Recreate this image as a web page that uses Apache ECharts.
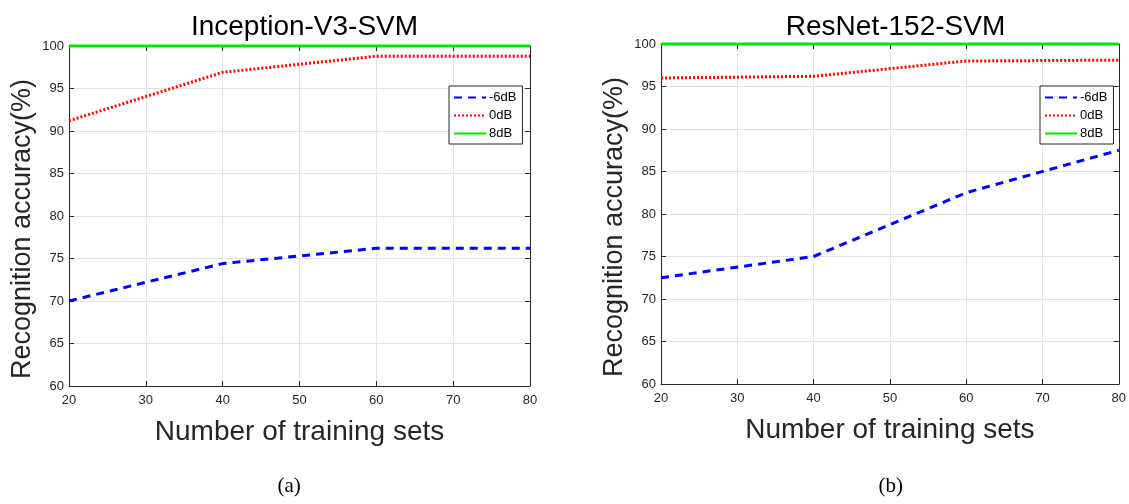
<!DOCTYPE html>
<html><head><meta charset="utf-8">
<script src="https://cdn.jsdelivr.net/npm/echarts@6/dist/echarts.min.js"></script>
<style>html,body{margin:0;padding:0;background:#fff}#c{width:1129px;height:504px}</style>
</head><body><div id="c"></div>
<script>
const trainingSets = [20, 40, 60, 80];
const seriesNames = ['-6dB', '0dB', '8dB'];
const incM6 = [70.0, 74.4, 76.2, 76.2];
const inc0 = [91.2, 96.9, 98.8, 98.8];
const inc8 = [100, 100, 100, 100];
const resM6 = [72.5, 75.0, 82.5, 87.5];
const res0 = [96.0, 96.2, 98.0, 98.1];
const res8 = [100, 100, 100, 100];
const titles = ['Inception-V3-SVM', 'ResNet-152-SVM'];
const captions = ['(a)', '(b)'];

const FONT = 'Liberation Sans, Arial, sans-serif';
const styles = [
  {color: '#0000ff', type: [8, 6], width: 3},
  {color: '#ff0000', type: [2, 2], width: 3},
  {color: '#00e600', type: 'solid', width: 3}
];
const grids = [
  {left: 69, top: 46, width: 461, height: 340},
  {left: 661, top: 44, width: 459, height: 340}
];
const legendPos = [{left: 449, top: 86}, {left: 1040, top: 86}];
function pts(v) { return trainingSets.map((x, i) => [x, v[i]]); }
const data = [[incM6, inc0, inc8], [resM6, res0, res8]];

const xAxis = [], yAxis = [], series = [];
grids.forEach((g, gi) => {
  xAxis.push({
    type: 'value', gridIndex: gi, min: 20, max: 80, interval: 10,
    name: 'Number of training sets', nameLocation: 'middle', nameGap: 32,
    nameTextStyle: {fontFamily: FONT, fontSize: 28, color: '#262626'},
    axisLine: {show: true, onZero: false, lineStyle: {color: '#262626'}},
    axisTick: {inside: true, length: 5, lineStyle: {color: '#262626'}},
    axisLabel: {fontFamily: FONT, fontSize: 13, color: '#262626', margin: 8},
    splitLine: {show: true, lineStyle: {color: '#e3e3e3'}}
  });
  xAxis.push({
    type: 'value', gridIndex: gi, position: 'top', min: 20, max: 80, interval: 10,
    axisLine: {show: true, onZero: false, lineStyle: {color: '#262626'}},
    axisTick: {inside: true, length: 5, lineStyle: {color: '#262626'}},
    axisLabel: {show: false}, splitLine: {show: false}
  });
  yAxis.push({
    type: 'value', gridIndex: gi, min: 60, max: 100, interval: 5,
    name: 'Recognition accuracy(%)', nameLocation: 'middle', nameGap: 33,
    nameTextStyle: {fontFamily: FONT, fontSize: 27, color: '#262626', padding: [0, 26, 0, 0]},
    axisLine: {show: true, onZero: false, lineStyle: {color: '#262626'}},
    axisTick: {inside: true, length: 5, lineStyle: {color: '#262626'}},
    axisLabel: {fontFamily: FONT, fontSize: 13, color: '#262626', margin: 5},
    splitLine: {show: true, lineStyle: {color: '#e3e3e3'}}
  });
  yAxis.push({
    type: 'value', gridIndex: gi, position: 'right', min: 60, max: 100, interval: 5,
    axisLine: {show: true, onZero: false, lineStyle: {color: '#262626'}},
    axisTick: {inside: true, length: 5, lineStyle: {color: '#262626'}},
    axisLabel: {show: false}, splitLine: {show: false}
  });
  seriesNames.forEach((n, si) => {
    series.push({
      name: n, type: 'line', xAxisIndex: gi * 2, yAxisIndex: gi * 2,
      data: pts(data[gi][si]), symbol: 'none', clip: false,
      lineStyle: styles[si], itemStyle: {color: styles[si].color},
      z: 3 + si
    });
  });
});

const chart = echarts.init(document.getElementById('c'), null, {renderer: 'canvas'});
chart.setOption({
  backgroundColor: '#fff',
  animation: false,
  title: grids.map((g, i) => ({
    text: titles[i], left: g.left + g.width / 2, top: 8, textAlign: 'center',
    textStyle: {fontFamily: FONT, fontSize: 28, fontWeight: 'normal', color: '#000'}
  })),
  legend: legendPos.map(p => ({
    data: seriesNames, orient: 'vertical', left: p.left, top: p.top, itemGap: 5, itemWidth: 32, itemHeight: 12,
    padding: [5, 6, 4, 4], backgroundColor: '#fff', borderColor: '#262626', borderWidth: 1, borderRadius: 0,
    itemStyle: {opacity: 0},
    textStyle: {fontFamily: FONT, fontSize: 13, color: '#000', padding: [0, 0, 0, -2]}, selectedMode: false
  })),
  grid: grids,
  xAxis: xAxis,
  yAxis: yAxis,
  series: series,
  graphic: grids.map((g, i) => ({
    type: 'text', left: g.left + g.width / 2 - 12 + (i === 0 ? -10 : 0), top: 476,
    style: {text: captions[i], font: '21px "Liberation Serif", "Times New Roman", serif', fill: '#000'}
  }))
});
</script></body></html>
